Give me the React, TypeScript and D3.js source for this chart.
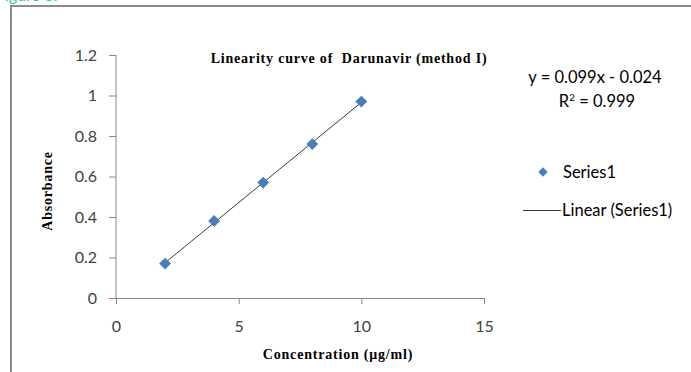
import { useEffect, useRef } from 'react';
import * as d3 from 'd3';

// concentration (ug/ml) vs absorbance
const concentration = [2, 4, 6, 8, 10];
const absorbance = [0.17, 0.38, 0.57, 0.76, 0.97];
const xTicks = [0, 5, 10, 15];
const yTicks = [0, 0.2, 0.4, 0.6, 0.8, 1, 1.2];
const equationLabel = 'y = 0.099x - 0.024';
const seriesName = 'Series1';

export default function App() {
  const svgRef = useRef<SVGSVGElement>(null);

  useEffect(() => {
    if (!svgRef.current) return;
    const svg = d3.select(svgRef.current);
    svg.selectAll('*').remove();

    const width = 691;
    const height = 372;
    const plot = { left: 116, right: 484, top: 55, bottom: 298 };
    const tickFont = 'Lato, "Open Sans", sans-serif';
    const serif = '"Liberation Serif", "DejaVu Serif", serif';

    svg.attr('width', width).attr('height', height);

    svg.append('rect').attr('width', width).attr('height', height).attr('fill', '#fff');

    // cut-off caption above the frame
    svg.append('text')
      .attr('x', -4).attr('y', 1)
      .attr('fill', '#33cc99')
      .style('font-family', tickFont).style('font-size', '16px')
      .text('Figure 3:');

    // chart frame (runs off the right and bottom edges)
    svg.append('path')
      .attr('d', `M11,${height + 5} L11,6 L${width + 5},6`)
      .attr('fill', 'none')
      .attr('stroke', '#8a8a8a')
      .attr('stroke-width', 2);

    const x = d3.scaleLinear().domain([0, 15]).range([plot.left, plot.right]);
    const y = d3.scaleLinear().domain([0, 1.2]).range([plot.bottom, plot.top]);

    // y axis
    const yAxis = svg.append('g')
      .attr('transform', `translate(${plot.left},0)`)
      .call(d3.axisLeft(y).tickValues(yTicks).tickSize(7).tickPadding(12)
        .tickFormat(d => d3.format('~g')(d as number)));
    // x axis
    const xAxis = svg.append('g')
      .attr('transform', `translate(0,${plot.bottom})`)
      .call(d3.axisBottom(x).tickValues(xTicks).tickSize(6).tickPadding(17)
        .tickFormat(d => String(d)));

    [yAxis, xAxis].forEach(g => {
      g.select('.domain').attr('stroke', '#868686').attr('d',
        g === yAxis ? `M0.5,${plot.top}V${plot.bottom}` : `M${plot.left},0.5H${plot.right}`);
      g.selectAll('.tick line').attr('stroke', '#868686');
      g.selectAll('.tick text')
        .attr('fill', '#404040')
        .style('font-family', tickFont)
        .style('font-size', '16px');
    });
    yAxis.select('.domain').attr('transform', 'translate(-0.5,0)');

    // linear trendline from least squares fit
    const mx = d3.mean(concentration) as number;
    const my = d3.mean(absorbance) as number;
    const slope = d3.sum(concentration, (c, i) => (c - mx) * (absorbance[i] - my)) /
      d3.sum(concentration, c => (c - mx) ** 2);
    const intercept = my - slope * mx;
    const ends = d3.extent(concentration) as [number, number];
    const line = d3.line<number>().x(c => x(c)).y(c => y(slope * c + intercept));
    svg.append('path')
      .datum(ends)
      .attr('d', line)
      .attr('fill', 'none')
      .attr('stroke', '#3a3a3a')
      .attr('stroke-width', 1);

    // data points
    const diamond = d3.symbol().type(d3.symbolDiamond2).size(90);
    svg.selectAll('path.pt')
      .data(concentration)
      .enter()
      .append('path')
      .attr('class', 'pt')
      .attr('d', diamond)
      .attr('transform', (c, i) => `translate(${x(c)},${y(absorbance[i])})`)
      .attr('fill', '#4a7ebb');

    const serifText = (sel: d3.Selection<SVGTextElement, unknown, null, undefined>) =>
      sel.attr('fill', '#000')
        .style('font-family', serif).style('font-weight', 'bold').style('font-size', '14px')
        .style('letter-spacing', '0.8px').style('white-space', 'pre');

    // title
    svg.append('text')
      .attr('x', 349).attr('y', 63)
      .attr('text-anchor', 'middle')
      .call(serifText)
      .text('Linearity curve of  Darunavir (method I)');

    // axis titles
    svg.append('text')
      .attr('x', 338).attr('y', 359)
      .attr('text-anchor', 'middle')
      .call(serifText)
      .text('Concentration (μg/ml)');
    svg.append('text')
      .attr('transform', 'translate(52,191) rotate(-90)')
      .attr('text-anchor', 'middle')
      .call(serifText)
      .text('Absorbance');

    // trendline equation
    const eq = svg.append('g')
      .style('font-family', tickFont).style('font-size', '16.5px').attr('fill', '#000');
    eq.append('text').attr('x', 595).attr('y', 83).attr('text-anchor', 'middle').text(equationLabel);
    const r2 = eq.append('text').attr('x', 597).attr('y', 107).attr('text-anchor', 'middle');
    r2.append('tspan').text('R');
    r2.append('tspan').attr('dy', -6).style('font-size', '10px').text('2');
    r2.append('tspan').attr('dy', 6).text(' = 0.999');

    // legend
    const legend = svg.append('g')
      .style('font-family', tickFont).style('font-size', '16.5px').attr('fill', '#000');
    legend.append('path')
      .attr('d', d3.symbol().type(d3.symbolDiamond2).size(55))
      .attr('transform', 'translate(543,172)')
      .attr('fill', '#4a7ebb');
    legend.append('text').attr('x', 563).attr('y', 178).text(seriesName);
    legend.append('line')
      .attr('x1', 523).attr('x2', 561).attr('y1', 210.5).attr('y2', 210.5)
      .attr('stroke', '#3a3a3a');
    legend.append('text').attr('x', 562).attr('y', 216).text(`Linear (${seriesName})`);
  }, []);

  return (
    <div style={{ position: 'fixed', left: 0, top: 0 }}>
      <svg ref={svgRef} style={{ display: 'block' }}></svg>
    </div>
  );
}
